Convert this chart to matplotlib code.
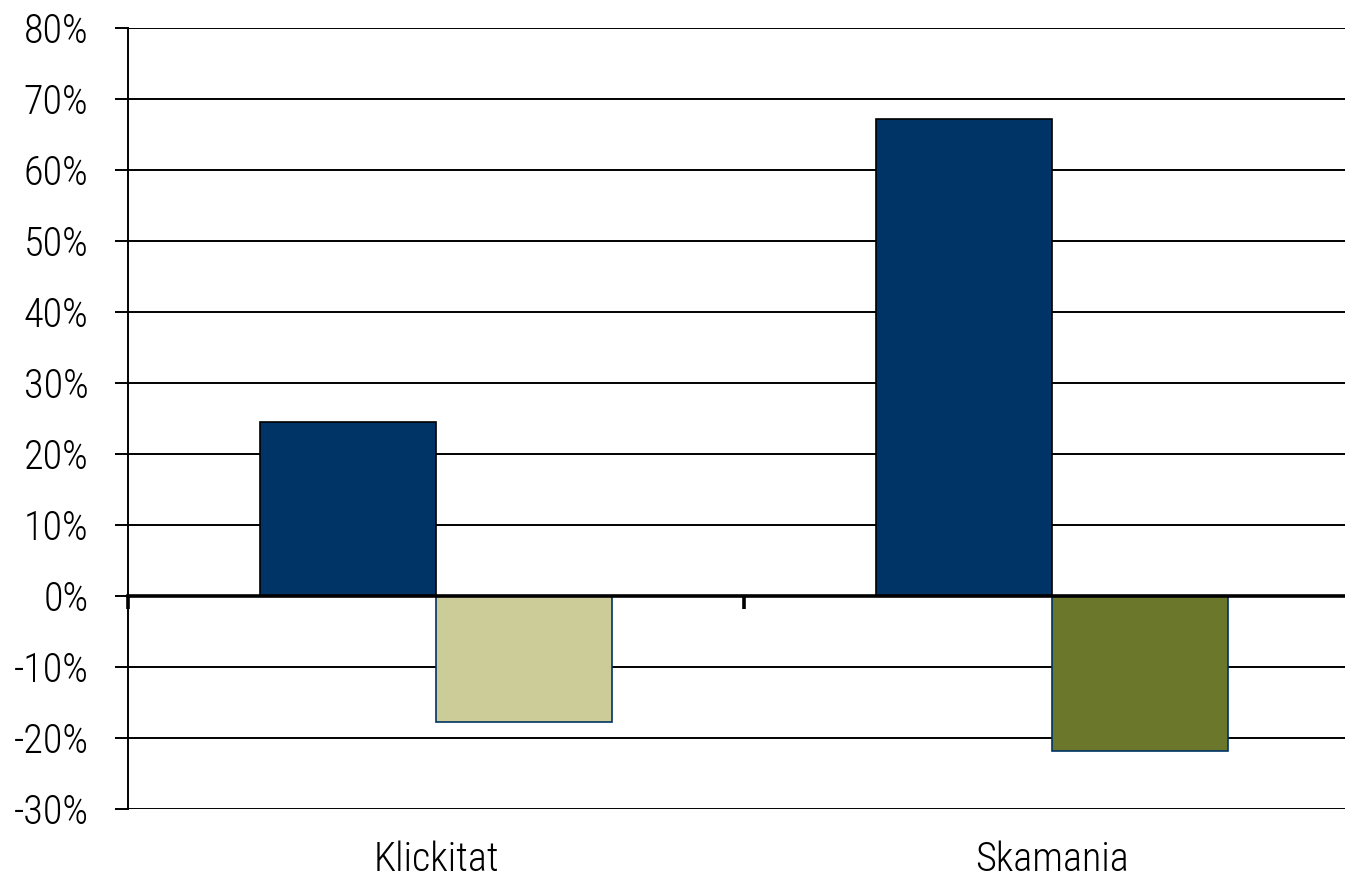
import matplotlib
matplotlib.use('Agg')
import matplotlib.pyplot as plt
import matplotlib.transforms as mtransforms
import numpy as np
from matplotlib.ticker import FuncFormatter

categories = ['Klickitat', 'Skamania']
series_pos = [0.245, 0.672]
series_neg = [-0.177, -0.218]
neg_colors = ['#CCCC99', '#6B772B']
pos_color = '#003366'
yticks = np.arange(-0.3, 0.81, 0.1)

plt.rcParams['font.family'] = ['Arial Narrow', 'Liberation Sans Narrow', 'Roboto Condensed',
                               'PT Sans Narrow', 'Archivo Narrow', 'DejaVu Sans']
plt.rcParams['font.weight'] = 'light'

W, H = 1345, 880
fig = plt.figure(figsize=(W / 100, H / 100), dpi=100)
ax = fig.add_axes([128 / W, (H - 809) / H, (1360 - 128) / W, (809 - 28) / H])

x = np.arange(len(categories))
bw = 0.2857
ax.bar(x - bw / 2, series_pos, bw, color=pos_color, edgecolor='black', linewidth=1.2, zorder=3)
ax.bar(x + bw / 2, series_neg, bw, color=neg_colors, edgecolor='#003366', linewidth=1.2, zorder=3)

ax.set_xlim(-0.5, 1.5)
ax.set_ylim(-0.3, 0.8)
ax.set_yticks(yticks)
ax.yaxis.set_major_formatter(FuncFormatter(lambda v, p: f'{round(v * 100):d}%'))
ax.grid(axis='y', color='black', linewidth=1.4, zorder=1)
ax.set_axisbelow(True)

for s in ['top', 'right']:
    ax.spines[s].set_visible(False)
ax.spines['left'].set_linewidth(1.4)
ax.spines['bottom'].set_position(('data', 0))
ax.spines['bottom'].set_linewidth(2.6)
ax.spines['bottom'].set_zorder(4)

ax.set_xticks([-0.5, 0.5, 1.5])
ax.set_xticklabels([])
ax.tick_params(axis='x', direction='out', length=9, width=2.6, color='black')
ax.tick_params(axis='y', direction='out', length=9.5, width=1.4, labelsize=29, pad=19)

trans = mtransforms.blended_transform_factory(ax.transData, ax.transAxes)
for xi, name in zip(x, categories):
    ax.text(xi, -0.065, name, transform=trans, ha='center', va='center', fontsize=29)

fig.savefig('out.png', dpi=100)
